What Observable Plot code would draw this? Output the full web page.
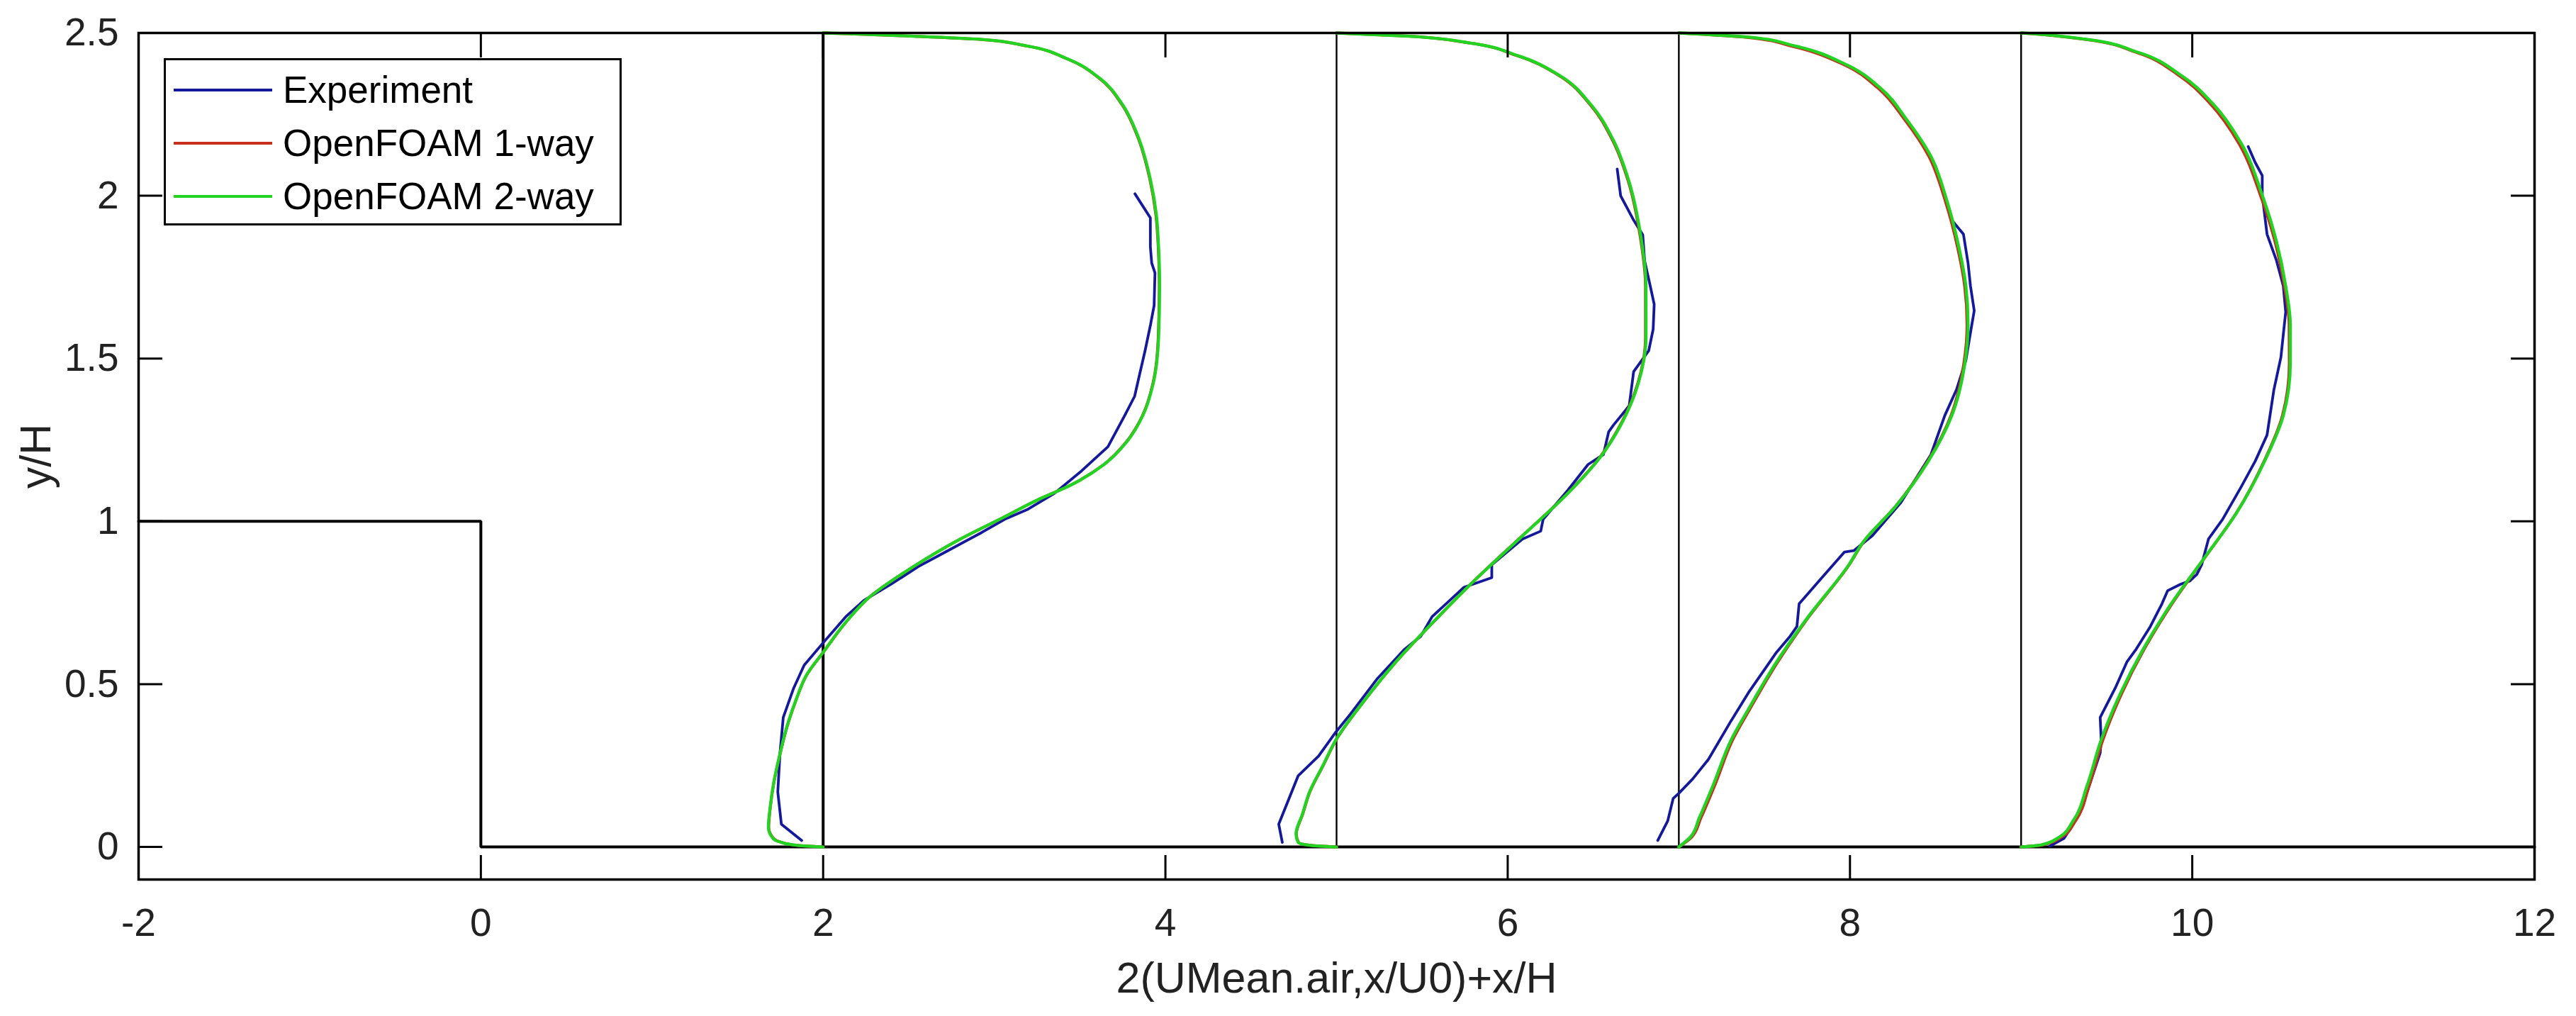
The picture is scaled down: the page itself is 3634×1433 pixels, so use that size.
<!DOCTYPE html>
<html>
<head>
<meta charset="utf-8">
<script src="https://cdn.jsdelivr.net/npm/d3@7"></script>
<script src="https://cdn.jsdelivr.net/npm/@observablehq/plot@0.6"></script>
<style>
html, body { margin: 0; padding: 0; background: #ffffff; }
#wrap { position: relative; width: 3634px; height: 1433px; background: #ffffff; }
#legend { position: absolute; left: 231px; top: 82px; width: 640px; height: 230px;
  border: 3px solid #000; background: #fff; font-family: "Liberation Sans", Arial, sans-serif; font-size: 53px; color: #000; }
.row { position: absolute; left: 0; height: 75px; width: 640px; }
.sw { position: absolute; left: 11px; width: 139px; top: 36px; height: 0; border-top: 4px solid #000; }
.lab { position: absolute; left: 165px; top: 0; line-height: 75px; white-space: nowrap; }
</style>
</head>
<body>
<div id="wrap"></div>
<script>
// ---------- axis / label data ----------
const xTicks = [-2, 0, 2, 4, 6, 8, 10, 12];
const yTicks = [0, 0.5, 1, 1.5, 2, 2.5];
const xLabel = "2(UMean.air,x/U0)+x/H";
const yLabel = "y/H";

// ---------- series ----------
const seriesNames = ["Experiment", "OpenFOAM 1-way", "OpenFOAM 2-way"];
const seriesColors = ["#14189a", "#c8301e", "#22d322"];

// ---------- geometry: step wall and measurement stations ----------
const wallX = [-2, 0, 0, 12];
const wallY = [1, 1, 0, 0];
const stations = [2, 5, 7, 9];
const stationBottom = 0;
const stationTop = 2.5;

// ---------- profile 1 (station x/H = 2) ----------
const exp1 = [[1.875,0.020],[1.756,0.070],[1.735,0.169],[1.748,0.289],[1.767,0.398],[1.828,0.488],[1.889,0.558],[2.000,0.627],[2.132,0.707],[2.238,0.757],[2.397,0.807],[2.556,0.861],[2.715,0.906],[2.927,0.966],[3.060,1.006],[3.192,1.036],[3.351,1.086],[3.510,1.155],[3.664,1.229],[3.762,1.325],[3.820,1.384],[3.846,1.444],[3.881,1.524],[3.913,1.604],[3.934,1.663],[3.939,1.763],[3.920,1.793],[3.912,1.843],[3.912,1.932],[3.822,2.006]];
const oneWay1 = [[2.000,0.000],[1.850,0.005],[1.752,0.015],[1.711,0.026],[1.682,0.060],[1.691,0.120],[1.713,0.200],[1.746,0.280],[1.789,0.369],[1.841,0.450],[1.906,0.530],[2.001,0.598],[2.133,0.690],[2.266,0.765],[2.531,0.862],[2.796,0.944],[3.060,1.014],[3.245,1.064],[3.456,1.114],[3.641,1.175],[3.773,1.245],[3.866,1.325],[3.927,1.424],[3.958,1.564],[3.964,1.723],[3.958,1.843],[3.944,1.942],[3.904,2.062],[3.838,2.181],[3.745,2.281],[3.613,2.361],[3.427,2.420],[3.190,2.460],[2.925,2.480],[2.528,2.490],[2.128,2.498],[2.000,2.500]];
const twoWay1 = [[2.000,0.000],[1.850,0.005],[1.750,0.015],[1.709,0.025],[1.680,0.060],[1.690,0.120],[1.712,0.200],[1.745,0.280],[1.788,0.369],[1.840,0.450],[1.905,0.530],[2.000,0.598],[2.132,0.690],[2.265,0.765],[2.530,0.862],[2.795,0.944],[3.060,1.014],[3.245,1.064],[3.457,1.114],[3.642,1.175],[3.775,1.245],[3.868,1.325],[3.929,1.424],[3.960,1.564],[3.966,1.723],[3.960,1.843],[3.947,1.942],[3.907,2.062],[3.841,2.181],[3.748,2.281],[3.616,2.361],[3.430,2.420],[3.192,2.460],[2.927,2.480],[2.530,2.490],[2.130,2.498],[2.000,2.500]];

// ---------- profile 2 (station x/H = 5) ----------
const exp2 = [[4.683,0.014],[4.662,0.070],[4.776,0.219],[4.895,0.279],[4.996,0.353],[5.081,0.408],[5.240,0.518],[5.399,0.608],[5.492,0.647],[5.558,0.707],[5.743,0.797],[5.907,0.827],[5.907,0.867],[6.087,0.946],[6.193,0.970],[6.207,1.006],[6.352,1.096],[6.470,1.175],[6.559,1.205],[6.590,1.275],[6.617,1.295],[6.710,1.355],[6.736,1.460],[6.824,1.524],[6.850,1.590],[6.856,1.667],[6.830,1.730],[6.800,1.800],[6.789,1.880],[6.736,1.925],[6.660,2.000],[6.640,2.082]];
const oneWay2 = [[5.000,0.000],[4.852,0.005],[4.778,0.014],[4.765,0.040],[4.802,0.100],[4.844,0.169],[4.922,0.250],[4.998,0.329],[5.161,0.448],[5.347,0.568],[5.559,0.687],[5.823,0.827],[6.086,0.956],[6.350,1.086],[6.536,1.195],[6.667,1.305],[6.760,1.424],[6.805,1.564],[6.805,1.723],[6.772,1.882],[6.706,2.042],[6.612,2.171],[6.480,2.281],[6.294,2.371],[6.056,2.430],[5.766,2.470],[5.422,2.490],[5.000,2.500]];
const twoWay2 = [[5.000,0.000],[4.850,0.005],[4.776,0.014],[4.763,0.040],[4.800,0.100],[4.842,0.169],[4.920,0.250],[4.996,0.329],[5.160,0.448],[5.346,0.568],[5.558,0.687],[5.823,0.827],[6.087,0.956],[6.352,1.086],[6.538,1.195],[6.670,1.305],[6.763,1.424],[6.808,1.564],[6.808,1.723],[6.776,1.882],[6.710,2.042],[6.617,2.171],[6.485,2.281],[6.299,2.371],[6.061,2.430],[5.770,2.470],[5.425,2.490],[5.000,2.500]];

// ---------- profile 3 (station x/H = 7) ----------
const exp3 = [[6.877,0.020],[6.935,0.080],[6.967,0.149],[7.000,0.165],[7.081,0.209],[7.173,0.269],[7.306,0.388],[7.412,0.478],[7.571,0.598],[7.650,0.647],[7.690,0.677],[7.703,0.747],[7.836,0.827],[7.968,0.906],[8.022,0.910],[8.131,0.956],[8.295,1.056],[8.473,1.205],[8.554,1.325],[8.622,1.404],[8.677,1.494],[8.699,1.564],[8.726,1.647],[8.704,1.723],[8.690,1.793],[8.663,1.882],[8.600,1.922],[8.554,2.002],[8.499,2.092]];
const oneWay3 = [[7.000,0.000],[7.075,0.030],[7.130,0.090],[7.210,0.189],[7.315,0.329],[7.420,0.428],[7.578,0.568],[7.760,0.707],[7.996,0.867],[8.078,0.936],[8.266,1.046],[8.455,1.185],[8.590,1.325],[8.665,1.484],[8.684,1.604],[8.670,1.723],[8.628,1.843],[8.558,1.982],[8.460,2.122],[8.318,2.235],[8.165,2.330],[7.955,2.405],[7.670,2.458],[7.405,2.486],[7.000,2.500]];
const twoWay3 = [[7.000,0.000],[7.067,0.030],[7.120,0.090],[7.200,0.189],[7.306,0.329],[7.412,0.428],[7.571,0.568],[7.756,0.707],[7.994,0.867],[8.076,0.936],[8.267,1.046],[8.458,1.185],[8.595,1.325],[8.671,1.484],[8.690,1.604],[8.677,1.723],[8.636,1.843],[8.568,1.982],[8.472,2.122],[8.330,2.235],[8.180,2.330],[7.970,2.405],[7.680,2.460],[7.410,2.487],[7.000,2.500]];

// ---------- profile 4 (station x/H = 9) ----------
const exp4 = [[9.168,0.003],[9.250,0.026],[9.304,0.070],[9.386,0.169],[9.462,0.289],[9.468,0.329],[9.462,0.398],[9.550,0.488],[9.618,0.568],[9.673,0.608],[9.755,0.677],[9.823,0.747],[9.856,0.787],[9.932,0.807],[9.986,0.817],[10.027,0.837],[10.055,0.867],[10.095,0.946],[10.177,1.006],[10.286,1.106],[10.368,1.185],[10.437,1.265],[10.477,1.404],[10.518,1.504],[10.546,1.643],[10.532,1.723],[10.491,1.803],[10.437,1.882],[10.409,2.002],[10.409,2.062],[10.368,2.102],[10.327,2.151]];
const oneWay4 = [[9.000,0.000],[9.125,0.006],[9.235,0.030],[9.318,0.080],[9.398,0.189],[9.478,0.329],[9.585,0.468],[9.720,0.608],[9.882,0.747],[10.070,0.886],[10.258,1.026],[10.420,1.185],[10.527,1.325],[10.567,1.484],[10.566,1.604],[10.538,1.723],[10.482,1.862],[10.398,2.002],[10.272,2.161],[10.108,2.281],[9.918,2.371],[9.675,2.440],[9.380,2.480],[9.055,2.498],[9.000,2.500]];
const twoWay4 = [[9.000,0.000],[9.115,0.006],[9.222,0.030],[9.304,0.080],[9.386,0.189],[9.468,0.329],[9.577,0.468],[9.714,0.608],[9.877,0.747],[10.068,0.886],[10.259,1.026],[10.423,1.185],[10.532,1.325],[10.573,1.484],[10.573,1.604],[10.546,1.723],[10.491,1.862],[10.409,2.002],[10.286,2.161],[10.123,2.281],[9.932,2.371],[9.686,2.440],[9.387,2.480],[9.060,2.498],[9.000,2.500]];

// ---------- build tables ----------
const expProfiles = [exp1, exp2, exp3, exp4];
const oneWayProfiles = [oneWay1, oneWay2, oneWay3, oneWay4];
const twoWayProfiles = [twoWay1, twoWay2, twoWay3, twoWay4];
function toRows(profiles) {
  const rows = [];
  profiles.forEach((p, k) => p.forEach(([x, y]) => rows.push({profile: k, x, y})));
  return rows;
}
const expRows = toRows(expProfiles);
const oneRows = toRows(oneWayProfiles);
const twoRows = toRows(twoWayProfiles);
const wallRows = wallX.map((x, i) => ({x, y: wallY[i]}));

const FONT = "'Liberation Sans', Arial, Helvetica, sans-serif";

const chart = Plot.plot({
  width: 3634,
  height: 1433,
  marginLeft: 195,
  marginRight: 59,
  marginTop: 46,
  marginBottom: 193,
  x: {domain: [-2, 12]},
  y: {domain: [-0.1, 2.5]},
  style: {fontFamily: FONT, fontSize: "55px", background: "#ffffff", color: "#000", overflow: "visible"},
  marks: [
    // step wall and stations
    Plot.line(wallRows, {x: "x", y: "y", stroke: "#000", strokeWidth: 4, strokeLinejoin: "miter"}),
    Plot.ruleX(stations, {x: d => d, y1: stationBottom, y2: stationTop, stroke: "#000",
      strokeWidth: (d, i) => (i === 0 ? 4 : 2.4)}),
    // profiles
    Plot.line(expRows, {x: "x", y: "y", z: "profile", stroke: seriesColors[0], strokeWidth: 3.8}),
    Plot.line(oneRows, {x: "x", y: "y", z: "profile", stroke: seriesColors[1], strokeWidth: 4, curve: "monotone-y"}),
    Plot.line(twoRows, {x: "x", y: "y", z: "profile", stroke: seriesColors[2], strokeWidth: 4.3, curve: "monotone-y"}),
    // frame
    Plot.frame({stroke: "#000", strokeWidth: 3.5}),
    // inward ticks on all four sides
    Plot.axisX(xTicks, {anchor: "bottom", tickSize: -34, text: null, label: null, strokeWidth: 3}),
    Plot.axisX(xTicks, {anchor: "top", tickSize: -34, text: null, label: null, strokeWidth: 3}),
    Plot.axisY(yTicks, {anchor: "left", tickSize: -34, text: null, label: null, strokeWidth: 3}),
    Plot.axisY(yTicks, {anchor: "right", tickSize: -34, text: null, label: null, strokeWidth: 3}),
    // tick labels
    Plot.axisX(xTicks, {anchor: "bottom", tickSize: 0, tickPadding: 40, label: null, tickFormat: d => String(d), fontSize: 55, fill: "#222"}),
    Plot.axisY(yTicks, {anchor: "left", tickSize: 0, tickPadding: 28, label: null, tickFormat: d => String(d), fontSize: 55, fill: "#222"}),
    // axis titles
    Plot.text([xLabel], {text: d => d, frameAnchor: "bottom", lineAnchor: "middle", textAnchor: "middle", dy: 140, fontSize: 61, fill: "#222"}),
    Plot.text([yLabel], {text: d => d, frameAnchor: "left", lineAnchor: "middle", textAnchor: "middle", dx: -144, rotate: -90, fontSize: 61, fill: "#222"})
  ]
});

const wrap = document.getElementById("wrap");
wrap.appendChild(chart);

// legend (HTML overlay)
const legend = document.createElement("div");
legend.id = "legend";
seriesNames.forEach((name, i) => {
  const row = document.createElement("div");
  row.className = "row";
  row.style.top = (3.5 + i * 75) + "px";
  const sw = document.createElement("div");
  sw.className = "sw";
  sw.style.borderTopColor = seriesColors[i];
  const lab = document.createElement("div");
  lab.className = "lab";
  lab.textContent = name;
  row.appendChild(sw);
  row.appendChild(lab);
  legend.appendChild(row);
});
wrap.appendChild(legend);
</script>
</body>
</html>
